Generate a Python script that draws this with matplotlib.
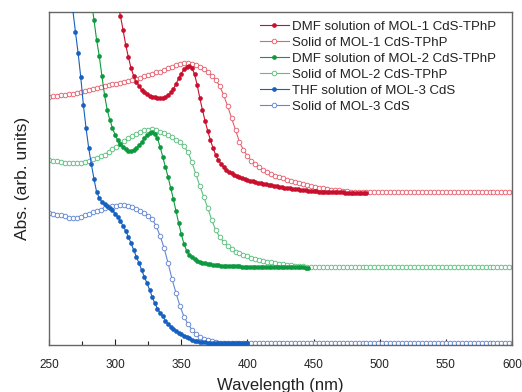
import numpy as np
import matplotlib
matplotlib.use("Agg")
import matplotlib.pyplot as plt
from matplotlib.ticker import MultipleLocator

plt.rcParams['font.family'] = ['Liberation Sans', 'DejaVu Sans']

labels = ["DMF solution of MOL-1 CdS-TPhP", "Solid of MOL-1 CdS-TPhP",
          "DMF solution of MOL-2 CdS-TPhP", "Solid of MOL-2 CdS-TPhP",
          "THF solution of MOL-3 CdS", "Solid of MOL-3 CdS"]

# DMF solution MOL-1 (from 302 nm, step 2 nm)
rf_start, rf_step = 302, 2
rf_vals = [3.43, 3.29, 3.15, 3.00, 2.88, 2.77, 2.69, 2.63, 2.59, 2.55,
           2.525, 2.505, 2.49, 2.48, 2.475, 2.47, 2.467, 2.47, 2.48, 2.50,
           2.525, 2.56, 2.61, 2.665, 2.715, 2.755, 2.78, 2.79, 2.77, 2.71,
           2.60, 2.47, 2.35, 2.24, 2.14, 2.05, 1.97, 1.90, 1.85, 1.81,
           1.78, 1.75, 1.73, 1.715, 1.70, 1.69, 1.68, 1.67, 1.66, 1.65,
           1.643, 1.637, 1.63, 1.624, 1.618, 1.612, 1.607, 1.602, 1.597, 1.592,
           1.587, 1.582, 1.578, 1.574, 1.57, 1.566, 1.562, 1.559, 1.556, 1.553,
           1.55, 1.547, 1.544, 1.541, 1.539, 1.537, 1.535, 1.533, 1.532, 1.531,
           1.53, 1.529, 1.528, 1.527, 1.527, 1.526, 1.525, 1.525, 1.524, 1.524,
           1.523, 1.523, 1.523, 1.523, 1.522]

# Solid MOL-1 (from 250 nm, step 3 nm)
ro_start, ro_step = 250, 3
ro_vals = [2.48, 2.485, 2.49, 2.495, 2.50, 2.505, 2.51, 2.515, 2.525, 2.535,
           2.545, 2.555, 2.565, 2.575, 2.585, 2.595, 2.605, 2.61, 2.62, 2.63,
           2.64, 2.65, 2.66, 2.67, 2.685, 2.70, 2.715, 2.725, 2.735, 2.75,
           2.765, 2.78, 2.795, 2.805, 2.815, 2.817, 2.81, 2.80, 2.783, 2.76,
           2.73, 2.695, 2.65, 2.59, 2.50, 2.39, 2.27, 2.15, 2.03, 1.95,
           1.89, 1.84, 1.805, 1.775, 1.75, 1.73, 1.71, 1.69, 1.675, 1.665,
           1.652, 1.64, 1.628, 1.618, 1.608, 1.598, 1.589, 1.58, 1.573, 1.566,
           1.56, 1.554, 1.549, 1.545, 1.541, 1.538, 1.535, 1.533, 1.531, 1.529,
           1.528, 1.527, 1.527, 1.526, 1.527, 1.526, 1.526, 1.527, 1.526, 1.526,
           1.526, 1.527, 1.526, 1.526, 1.526, 1.527, 1.526, 1.526, 1.526, 1.526,
           1.527, 1.526, 1.526, 1.526, 1.526, 1.527, 1.526, 1.526, 1.526, 1.526,
           1.527, 1.526, 1.526, 1.526, 1.526, 1.527, 1.526, 1.526]

# DMF solution MOL-2 (from 282 nm, step 2 nm)
gf_start, gf_step = 282, 2
gf_vals = [3.45, 3.25, 3.05, 2.89, 2.69, 2.50, 2.35, 2.25, 2.17, 2.10,
           2.045, 2.005, 1.975, 1.955, 1.942, 1.937, 1.945, 1.965, 1.995, 2.03,
           2.065, 2.095, 2.115, 2.125, 2.11, 2.065, 1.98, 1.88, 1.78, 1.68,
           1.57, 1.46, 1.34, 1.22, 1.11, 1.01, 0.945, 0.905, 0.88, 0.86,
           0.845, 0.833, 0.825, 0.818, 0.812, 0.808, 0.804, 0.80, 0.798, 0.795,
           0.793, 0.792, 0.79, 0.789, 0.788, 0.787, 0.786, 0.785, 0.784, 0.783,
           0.783, 0.782, 0.782, 0.781, 0.781, 0.78, 0.78, 0.78, 0.779, 0.779,
           0.779, 0.778, 0.778, 0.778, 0.777, 0.777, 0.777, 0.776, 0.776, 0.776,
           0.776, 0.775, 0.775]

# Solid MOL-2 (from 250 nm, step 3 nm)
go_start, go_step = 250, 3
go_vals = [1.85, 1.842, 1.835, 1.828, 1.823, 1.82, 1.817, 1.817, 1.818, 1.825,
           1.84, 1.855, 1.87, 1.885, 1.90, 1.93, 1.955, 1.98, 2.01, 2.04,
           2.065, 2.085, 2.11, 2.13, 2.147, 2.155, 2.157, 2.15, 2.135, 2.115,
           2.095, 2.075, 2.053, 2.025, 1.985, 1.93, 1.83, 1.71, 1.59, 1.48,
           1.37, 1.25, 1.15, 1.08, 1.03, 0.99, 0.96, 0.935, 0.917, 0.902,
           0.888, 0.875, 0.865, 0.855, 0.845, 0.835, 0.828, 0.822, 0.815, 0.808,
           0.803, 0.798, 0.794, 0.79, 0.786, 0.783, 0.78, 0.778, 0.777, 0.777,
           0.776, 0.777, 0.777, 0.776, 0.777, 0.777, 0.776, 0.777, 0.777, 0.776,
           0.777, 0.777, 0.776, 0.777, 0.777, 0.776, 0.777, 0.777, 0.776, 0.777,
           0.777, 0.776, 0.777, 0.777, 0.776, 0.777, 0.777, 0.776, 0.777, 0.777,
           0.776, 0.777, 0.777, 0.776, 0.777, 0.777, 0.776, 0.777, 0.777, 0.776,
           0.777, 0.777, 0.776, 0.777, 0.777, 0.776, 0.777, 0.777]

# THF solution MOL-3 (from 266 nm, step 2 nm)
bf_start, bf_step = 266, 2
bf_vals = [3.55, 3.35, 3.13, 2.92, 2.68, 2.40, 2.17, 1.97, 1.81, 1.66,
           1.53, 1.47, 1.43, 1.405, 1.387, 1.367, 1.345, 1.315, 1.28, 1.24,
           1.19, 1.14, 1.083, 1.02, 0.95, 0.885, 0.82, 0.75, 0.685, 0.62,
           0.555, 0.48, 0.417, 0.365, 0.32, 0.287, 0.245, 0.21, 0.185, 0.163,
           0.143, 0.125, 0.11, 0.095, 0.08, 0.067, 0.055, 0.045, 0.04, 0.035,
           0.031, 0.028, 0.025, 0.023, 0.022, 0.022, 0.022, 0.022, 0.022, 0.022,
           0.022, 0.022, 0.022, 0.022, 0.022, 0.022, 0.022, 0.022]

# Solid MOL-3 (from 250 nm, step 3 nm)
bo_start, bo_step = 250, 3
bo_vals = [1.32, 1.312, 1.305, 1.30, 1.29, 1.275, 1.267, 1.27, 1.282, 1.297,
           1.312, 1.325, 1.34, 1.353, 1.365, 1.375, 1.385, 1.393, 1.40, 1.40,
           1.393, 1.38, 1.36, 1.34, 1.32, 1.295, 1.26, 1.19, 1.09, 0.97,
           0.82, 0.66, 0.52, 0.39, 0.285, 0.21, 0.155, 0.115, 0.085, 0.063,
           0.047, 0.037, 0.03, 0.025, 0.022, 0.02, 0.02, 0.02, 0.02, 0.02,
           0.02, 0.02, 0.02, 0.02, 0.02, 0.02, 0.02, 0.02, 0.02, 0.02,
           0.02, 0.02, 0.02, 0.02, 0.02, 0.02, 0.02, 0.02, 0.02, 0.02,
           0.02, 0.02, 0.02, 0.02, 0.02, 0.02, 0.02, 0.02, 0.02, 0.02,
           0.02, 0.02, 0.02, 0.02, 0.02, 0.02, 0.02, 0.02, 0.02, 0.02,
           0.02, 0.02, 0.02, 0.02, 0.02, 0.02, 0.02, 0.02, 0.02, 0.02,
           0.02, 0.02, 0.02, 0.02, 0.02, 0.02, 0.02, 0.02, 0.02, 0.02,
           0.02, 0.02, 0.02, 0.02, 0.02, 0.02, 0.02, 0.02]

xticks = [250, 300, 350, 400, 450, 500, 550, 600]

colors = ['#c8102e', '#e8606e', '#0c9a3e', '#5cc07e', '#1660c0', '#6487d4']

fig = plt.figure(figsize=(5.22, 3.92), dpi=100)
ax = fig.add_axes([49/522, 1 - 345/392, (512-49)/522, (345-12)/392])

series = [(rf_start, rf_step, rf_vals, True), (ro_start, ro_step, ro_vals, False),
          (gf_start, gf_step, gf_vals, True), (go_start, go_step, go_vals, False),
          (bf_start, bf_step, bf_vals, True), (bo_start, bo_step, bo_vals, False)]

for i, (st, sp, vals, filled) in enumerate(series):
    wl = st + sp * np.arange(len(vals))
    c = colors[i]
    if filled:
        ax.plot(wl, vals, '-', color=c, lw=0.8, marker='o', ms=2.9,
                mfc=c, mec=c, mew=0.4, label=labels[i], zorder=3)
    else:
        ax.plot(wl, vals, '-', color=c, lw=0.8, marker='o', ms=3.3,
                mfc='white', mec=c, mew=0.65, label=labels[i], zorder=2)

ax.set_xlim(250, 600)
ax.set_ylim(0, 3.33)
ax.set_xticks(xticks)
ax.xaxis.set_minor_locator(MultipleLocator(25))
ax.set_yticks([])
ax.tick_params(axis='x', which='both', direction='in', top=False,
               labelsize=8.5, colors='#222', pad=10)
ax.tick_params(axis='x', which='major', length=4, width=0.8)
ax.tick_params(axis='x', which='minor', length=3, width=0.8)
for s in ax.spines.values():
    s.set_color('#666')
    s.set_linewidth(1.0)

ax.set_xlabel('Wavelength (nm)', fontsize=12, color='#222', labelpad=5)
ax.set_ylabel('Abs. (arb. units)', fontsize=12.5, color='#222', labelpad=14)

leg = ax.legend(loc='upper left', bbox_to_anchor=(259.5/522, 1 - 20.5/392),
                bbox_transform=fig.transFigure, frameon=False, fontsize=9.5,
                handlelength=2.2, handletextpad=0.3, labelspacing=0.29,
                borderpad=0, borderaxespad=0, numpoints=1)
for t in leg.get_texts():
    t.set_color('#222')

fig.savefig('out.png', dpi=100)
